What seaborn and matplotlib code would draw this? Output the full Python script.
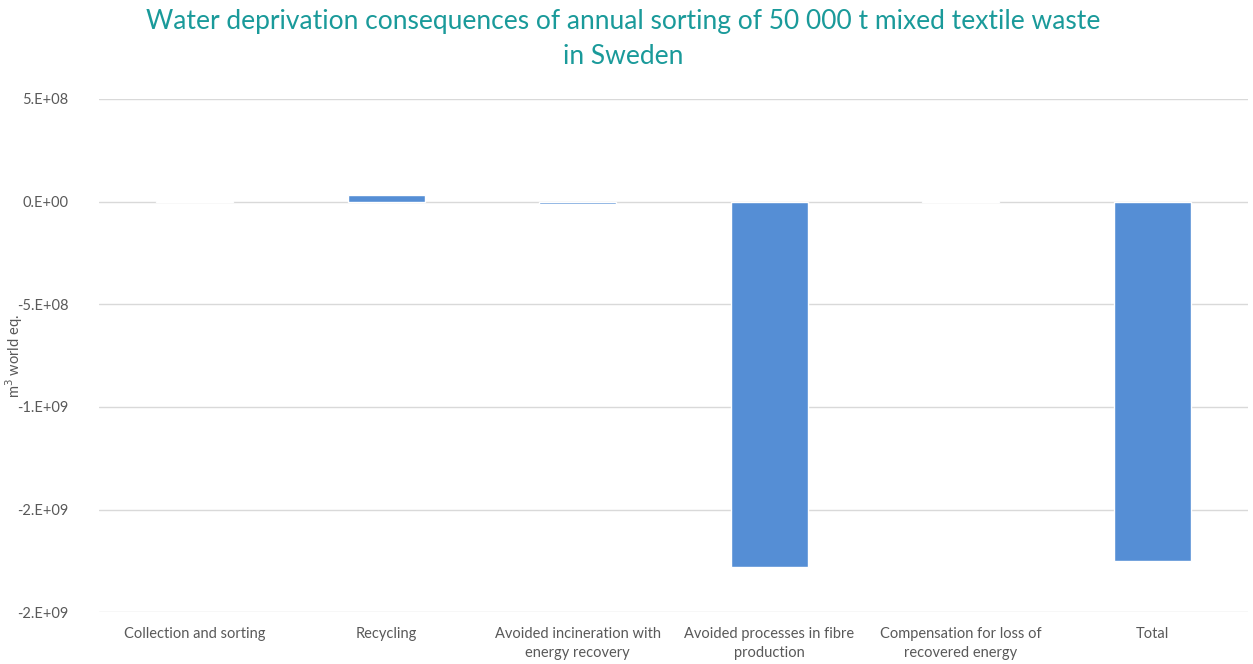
import pandas as pd
import matplotlib.pyplot as plt
import seaborn as sns
from matplotlib.ticker import FixedLocator, FixedFormatter

# Data
categories = ['Collection and sorting', 'Recycling',
              'Avoided incineration with\nenergy recovery',
              'Avoided processes in fibre\nproduction',
              'Compensation for loss of\nrecovered energy', 'Total']
values = [1.0e6, 3.4e7, -1.0e7, -1.78e9, 1.0e6, -1.75e9]
ytick_values = [5e8, 0, -5e8, -1e9, -1.5e9, -2e9]
ytick_labels = ['5.E+08', '0.E+00', '-5.E+08', '-1.E+09', '-2.E+09', '-2.E+09']

df = pd.DataFrame({'category': categories, 'value': values})

sns.set_theme(style='white')
plt.rcParams['font.family'] = ['Lato', 'DejaVu Sans']

fig = plt.figure(figsize=(12.53, 6.64), dpi=100)
ax = fig.add_axes([0.079, 0.078, 0.917, 0.773])

sns.barplot(data=df, x='category', y='value', color='#558ed5', width=0.4,
            saturation=1, ax=ax)

ax.set_ylim(-2e9, 5e8)
ax.yaxis.set_major_locator(FixedLocator(ytick_values))
ax.yaxis.set_major_formatter(FixedFormatter(ytick_labels))
ax.grid(axis='y', color='#d9d9d9', linewidth=1)
ax.set_axisbelow(True)
for s in ax.spines.values():
    s.set_visible(False)
ax.tick_params(axis='both', length=0, colors='#595959', labelsize=10.5)
ax.tick_params(axis='y', pad=22)
ax.tick_params(axis='x', pad=11)
for lbl in ax.get_xticklabels():
    lbl.set_linespacing(1.4)
ax.set_xlabel('')
ax.set_ylabel('m$^3$ world eq.', color='#595959', fontsize=10.5)
ax.yaxis.set_label_coords(-0.064, 0.5)

fig.suptitle('Water deprivation consequences of annual sorting of 50 000 t mixed textile waste\nin Sweden',
             color='#1a9a9a', fontsize=19, y=0.987, x=0.497, linespacing=1.5)

plt.savefig('out.png', dpi=100)
